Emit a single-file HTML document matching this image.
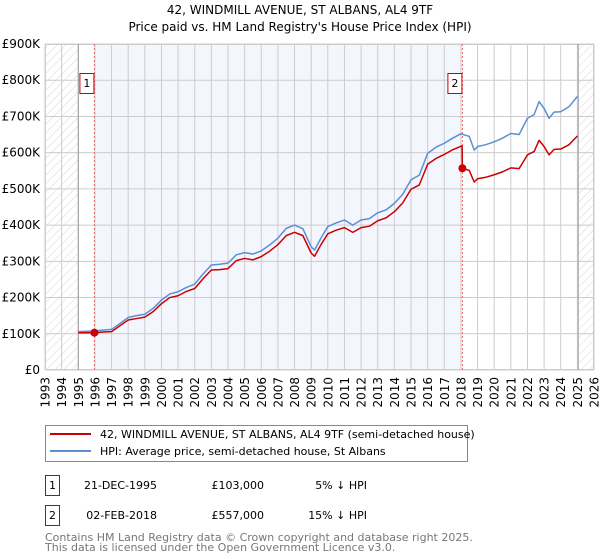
<!DOCTYPE html>
<html><head><meta charset="utf-8"><style>
body{margin:0;background:#fff;font-family:"DejaVu Sans","Liberation Sans",sans-serif;}
svg{display:block}
</style></head><body>
<svg id="chart" width="600" height="560" xmlns="http://www.w3.org/2000/svg" font-family="DejaVu Sans, Liberation Sans, sans-serif">
<defs><pattern id="hatch" patternUnits="userSpaceOnUse" width="6" height="6" patternTransform="rotate(45)"><line x1="0" y1="0" x2="0" y2="6" stroke="#ccc" stroke-width="0.8"/></pattern></defs>
<text x="300" y="14" text-anchor="middle" font-size="12">42, WINDMILL AVENUE, ST ALBANS, AL4 9TF</text>
<text x="300" y="31" text-anchor="middle" font-size="12">Price paid vs. HM Land Registry's House Price Index (HPI)</text>
<g id="plot"></g>
<g>
<rect x="45.5" y="425.5" width="422" height="36" fill="#fff" stroke="#888"/>
<line x1="50" y1="434" x2="91" y2="434" stroke="#cc0000" stroke-width="2"/>
<text x="100" y="438" font-size="11">42, WINDMILL AVENUE, ST ALBANS, AL4 9TF (semi-detached house)</text>
<line x1="50" y1="451" x2="91" y2="451" stroke="#5b8fd4" stroke-width="2"/>
<text x="100" y="455" font-size="11">HPI: Average price, semi-detached house, St Albans</text>
</g>
<g font-size="11">
<rect x="45.5" y="475.5" width="14" height="20" fill="#fff" stroke="#cc0000"/><text x="52.5" y="489" text-anchor="middle">1</text>
<text x="157" y="489" text-anchor="end">21-DEC-1995</text><text x="264" y="489" text-anchor="end">£103,000</text><text x="367" y="489" text-anchor="end">5% ↓ HPI</text>
<rect x="45.5" y="505.5" width="14" height="20" fill="#fff" stroke="#cc0000"/><text x="52.5" y="519" text-anchor="middle">2</text>
<text x="157" y="519" text-anchor="end">02-FEB-2018</text><text x="264" y="519" text-anchor="end">£557,000</text><text x="367" y="519" text-anchor="end">15% ↓ HPI</text>
</g>
<text x="45" y="541" font-size="11" fill="#777">Contains HM Land Registry data © Crown copyright and database right 2025.</text>
<text x="45" y="551" font-size="11" fill="#777">This data is licensed under the Open Government Licence v3.0.</text>
</svg>
<script>
const hpiYears=[1995,1995.5,1996,1996.5,1997,1997.5,1998,1998.5,1999,1999.5,2000,2000.5,2001,2001.5,2002,2002.5,2003,2003.5,2004,2004.5,2005,2005.5,2006,2006.5,2007,2007.5,2008,2008.5,2009,2009.2,2009.6,2010,2010.5,2011,2011.5,2012,2012.5,2013,2013.5,2014,2014.5,2015,2015.5,2016,2016.5,2017,2017.5,2018,2018.5,2018.8,2019,2019.5,2020,2020.5,2021,2021.5,2022,2022.4,2022.7,2023,2023.3,2023.6,2024,2024.5,2025];
const hpiValues=[106,107,108,110,112,128,145,150,154,170,193,210,216,228,237,265,290,292,295,318,324,320,329,345,364,391,400,390,340,331,365,396,406,414,400,414,418,434,442,460,485,525,538,598,615,626,640,652,645,607,617,622,630,640,653,650,695,705,741,722,695,712,713,727,755];
const priceYears=[1995,1995.97,1996.5,1997,1997.5,1998,1998.5,1999,1999.5,2000,2000.5,2001,2001.5,2002,2002.5,2003,2003.5,2004,2004.5,2005,2005.5,2006,2006.5,2007,2007.5,2008,2008.5,2009,2009.2,2009.6,2010,2010.5,2011,2011.5,2012,2012.5,2013,2013.5,2014,2014.5,2015,2015.5,2016,2016.5,2017,2017.5,2018.07,2018.09,2018.5,2018.8,2019,2019.5,2020,2020.5,2021,2021.5,2022,2022.4,2022.7,2023,2023.3,2023.6,2024,2024.5,2025];
const priceValues=[103,103,105,106,122,138,142,146,161,183,200,205,217,225,252,276,277,280,302,308,304,313,328,346,371,380,371,323,314,347,376,386,393,380,393,397,412,420,437,461,499,511,568,584,595,608,619,557,551,519,528,532,539,547,558,556,594,603,634,617,594,609,610,622,646];
const saleYears=[1995.97,2018.09];
const salePrices=[103,557];
const yTicks=[0,100,200,300,400,500,600,700,800,900];
const yTickLabels=["£0","£100K","£200K","£300K","£400K","£500K","£600K","£700K","£800K","£900K"];
const xTicks=[1993,1994,1995,1996,1997,1998,1999,2000,2001,2002,2003,2004,2005,2006,2007,2008,2009,2010,2011,2012,2013,2014,2015,2016,2017,2018,2019,2020,2021,2022,2023,2024,2025,2026];

const X0=45,X1=594,Y0=370,Y1=44;
const xs=y=>X0+(y-1993)/33*(X1-X0);
const ys=v=>Y0-v/900*(Y0-Y1);
const NS="http://www.w3.org/2000/svg";
const g=document.getElementById('plot');
function mk(t,a){const e=document.createElementNS(NS,t);for(const k in a)e.setAttribute(k,a[k]);g.appendChild(e);return e;}

let e;
e=mk('rect',{x:X0,y:Y1,width:xs(1995)-X0,height:Y0-Y1,fill:'url(#hatch)'});


e=mk('rect',{x:xs(2025.1),y:Y1,width:X1-xs(2025.1),height:Y0-Y1,fill:'url(#hatch)'});


e=mk('rect',{x:xs(saleYears[0]),y:Y1,width:xs(saleYears[1])-xs(saleYears[0]),height:Y0-Y1,fill:'#f3f6fd'});



yTicks.forEach((v,i)=>{
  e=mk('line',{x1:X0,x2:X1,y1:ys(v),y2:ys(v),stroke:'#ccc','stroke-width':1});
  
  
  e=mk('text',{x:40,y:ys(v)+4,'text-anchor':'end','font-size':12});
  e.textContent=yTickLabels[i];
  
  
});
xTicks.forEach(yr=>{
  e=mk('line',{x1:xs(yr),x2:xs(yr),y1:Y1,y2:Y0,stroke:'#ccc','stroke-width':1});
  
  
  const tx=xs(yr)+4.5, ty=377;
  e=mk('text',{x:tx,y:ty,'text-anchor':'end','font-size':12,transform:'rotate(-90 '+tx+' '+ty+')'});
  e.textContent=yr;
  
  
});
e=mk('rect',{x:X0+0.5,y:Y1+0.5,width:X1-X0-1,height:Y0-Y1-1,fill:'none',stroke:'#ccc'});


e=mk('line',{x1:xs(1995),x2:xs(1995),y1:Y1,y2:Y0,stroke:'#999','stroke-width':1});


e=mk('line',{x1:xs(2025.05),x2:xs(2025.05),y1:Y1,y2:Y0,stroke:'#999','stroke-width':1});



saleYears.forEach((yr,i)=>{
  e=mk('line',{x1:xs(yr),x2:xs(yr),y1:Y1,y2:Y0,stroke:'#e66','stroke-width':1,'stroke-dasharray':'2,2'});
  
  
  e=mk('rect',{x:xs(yr)-14.5,y:73.5,width:14,height:20,fill:'#fff',stroke:'#cc0000'});
  
  
  e=mk('text',{x:xs(yr)-7.5,y:87,'text-anchor':'middle','font-size':11});
  e.textContent=String(i+1);
  
  
});

e=mk('polyline',{points:hpiYears.map((y,i)=>xs(y)+','+ys(hpiValues[i])).join(' '),fill:'none',stroke:'#5b8fd4','stroke-width':1.5,'stroke-linejoin':'round'});


e=mk('polyline',{points:priceYears.map((y,i)=>xs(y)+','+ys(priceValues[i])).join(' '),fill:'none',stroke:'#cc0000','stroke-width':1.5,'stroke-linejoin':'round'});


saleYears.forEach((yr,i)=>{
  e=mk('circle',{cx:xs(yr),cy:ys(salePrices[i]),r:4,fill:'#cc0000'});
  
  
});
</script>
</body></html>
